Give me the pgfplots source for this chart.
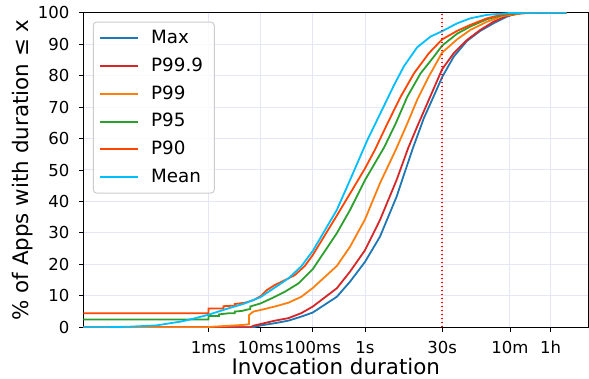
\documentclass[border=0pt]{standalone}
\usepackage{fontspec}
\setmainfont{DejaVu Sans}
\usepackage{pgfplots}
\pgfplotsset{compat=1.18}
\definecolor{tabblue}{HTML}{1F77B4}
\definecolor{tabred}{HTML}{D62728}
\definecolor{taborange}{HTML}{FF7F0E}
\definecolor{tabgreen}{HTML}{2CA02C}
\definecolor{orangered}{HTML}{FF4500}
\definecolor{deepskyblue}{HTML}{00BFFF}
\definecolor{gridcol}{RGB}{230,230,250}
\definecolor{legframe}{RGB}{204,204,204}
\begin{document}
\begin{tikzpicture}
\begin{axis}[
  at={(0,0)}, anchor=south west,
  scale only axis, width=505pt, height=314.6pt,
  xmode=log, xmin=4e-6, xmax=1.9e4, ymin=0, ymax=100,
  xtick={1e-3,1e-2,1e-1,1,30,600,3600},
  xticklabels={1ms,10ms,100ms,1s,30s,10m,1h},
  xminorticks=false,
  ytick={0,10,...,100},
  grid=major, major grid style={color=gridcol, line width=1pt},
  tick align=outside, tick pos=left, major tick length=4.5pt,
  tick style={black, line width=0.9pt},
  axis line style={black, line width=1pt},
  /pgf/number format/assume math mode=true,
  tick label style={font=\fontsize{16.5}{19}\selectfont},
  xticklabel style={anchor=base, inner sep=0pt, yshift=-22pt},
  yticklabel style={anchor=east, inner sep=0pt, xshift=-9.3pt},
  xlabel={Invocation duration},
  ylabel={\% of Apps with duration ≤ x},
  label style={font=\fontsize{21.4}{25}\selectfont},
  xlabel style={at={(axis description cs:0.5,-0.1516)}, anchor=base, inner sep=0pt},
  ylabel style={at={(axis description cs:-0.1077,0.5)}, anchor=base, inner sep=0pt},
  legend image code/.code={\fill[#1, draw=none] (0pt,-1pt) rectangle (38pt,1pt);},
  legend cell align=left,
  legend style={at={(axis description cs:0.0198,0.9704)}, anchor=north west,
    draw=none, fill=none,
    font=\fontsize{18.3}{22}\selectfont,
    inner xsep=6.7pt, inner ysep=8pt, row sep=11.8pt, column sep=13pt,
    nodes={inner sep=0pt, text height=13.3pt, text depth=2.7pt}},
  every axis plot/.append style={line width=1.8pt},
]
\addplot[tabblue] coordinates {(4e-6,0) (7.244e-3,0) (0.01,0.6) (0.01862,1.3) (0.03388,2.1) (0.06026,3.4) (0.1,4.7) (0.2884,9.7) (0.5164,14.5) (1,20.8) (1.936,28.8) (4.027,41.5) (8.054,56.4) (13.43,66.5) (20.80,73.5) (30,79.5) (50,86.0) (89.74,91.0) (161.1,94.2) (289.1,96.6) (517.6,98.7) (803.5,99.8) (1585,100) (7244,100)};
\addlegendentry{Max}
\addplot[tabred] coordinates {(4e-6,0) (6.31e-3,0) (7.244e-3,0.5) (0.01,1.05) (0.01862,2.1) (0.03388,2.9) (0.06026,4.5) (0.1,6.6) (0.2884,12.4) (0.5164,17.7) (1,24.5) (1.936,34.1) (4.027,46.8) (6.730,57) (10,63.8) (16.71,72.3) (30,82) (50,87.1) (89.74,91.3) (161.1,94.5) (289.1,97.1) (517.6,99.0) (1000,99.8) (1585,100) (7244,100)};
\addlegendentry{P99.9}
\addplot[taborange] coordinates {(4e-6,0) (1e-3,0) (1e-3,0.1) (2.512e-3,0.5) (5e-3,0.8) (6e-3,1.0) (6e-3,3.9) (7.244e-3,5.0) (0.01,5.5) (0.01862,6.6) (0.03388,7.8) (0.06026,9.7) (0.1,12.5) (0.2884,19.5) (0.5164,25.6) (1,34.3) (1.936,45.8) (3.882,56.4) (6.471,64.8) (10,72.3) (16.71,79.7) (30,87.3) (57.94,91.5) (103.8,94.5) (215.8,97.1) (446.7,99.0) (1000,99.8) (1585,100) (7244,100)};
\addlegendentry{P99}
\addplot[tabgreen] coordinates {(4e-6,2.5) (1e-3,2.5) (1e-3,3.6) (1.6e-3,3.6) (1.6e-3,4.1) (2.4e-3,4.45) (3.2e-3,4.5) (3.2e-3,5.0) (4.365e-3,5.2) (5.754e-3,5.7) (6.31e-3,5.8) (6.31e-3,6.6) (0.01,7.6) (0.01622,9.2) (0.02917,11.3) (0.05248,13.9) (0.1,18.5) (0.2884,29.9) (0.5164,37.3) (1,46.8) (2.328,57.2) (3.882,64.8) (6.471,73.3) (11.61,80.7) (20.80,86.0) (30,89.5) (57.94,93.3) (103.8,95.6) (215.8,97.9) (446.7,99.3) (1000,99.9) (1585,100) (7244,100)};
\addlegendentry{P95}
\addplot[orangered] coordinates {(4e-6,4.45) (1e-3,4.45) (1e-3,6.0) (1.95e-3,6.0) (1.95e-3,6.7) (3.2e-3,6.9) (3.2e-3,7.4) (5e-3,7.8) (7.244e-3,8.6) (0.01,9.9) (0.01303,11.8) (0.01862,13.4) (0.02917,15.0) (0.04529,16.6) (0.07031,19.5) (0.1,23.0) (0.2884,35.5) (0.5164,42.5) (1,50.5) (1.549,56.4) (2.692,64.8) (4.831,73.3) (8.670,80.7) (16.71,87.1) (30,91.5) (57.94,94.2) (103.8,96.1) (215.8,98.2) (446.7,99.5) (1000,99.95) (1585,100) (7244,100)};
\addlegendentry{P90}
\addplot[deepskyblue] coordinates {(4e-6,0) (1e-5,0) (3.162e-5,0.2) (1e-4,0.6) (3.162e-4,1.9) (5.623e-4,2.9) (1e-3,4.0) (2.399e-3,6.0) (5.012e-3,7.6) (0.01,9.6) (0.01862,12.6) (0.03388,15.5) (0.06026,19.4) (0.1,24.3) (0.2884,37.3) (0.5164,46.8) (1.109,59.5) (2.328,70.5) (3.606,77.0) (5.585,83.0) (10,89.0) (17.99,92.4) (30,94.1) (57.94,96.6) (103.8,98.2) (215.8,99.3) (600,99.9) (1585,100) (7244,100)};
\addlegendentry{Mean}
\addplot[red, line width=1.6pt, dash pattern=on 1.6pt off 2.4pt, forget plot] coordinates {(30,0) (30,100)};
\draw[legframe, line width=1pt, rounded corners=3.5pt, fill=white, fill opacity=0.8]
  (axis description cs:0.0198,0.9704) rectangle (axis description cs:0.2594,0.4264);
\end{axis}
\pgfresetboundingbox
\useasboundingbox (-83.3pt,-51.7pt) rectangle (505.7pt,327.3pt);
\end{tikzpicture}
\end{document}
